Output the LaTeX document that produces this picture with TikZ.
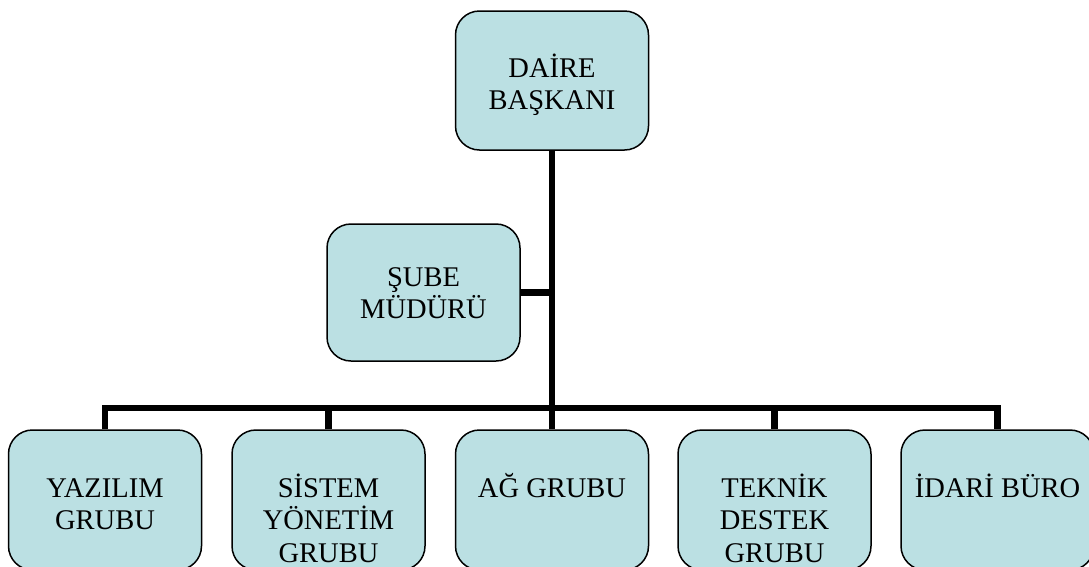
\documentclass[tikz,border=0pt]{standalone}
\usepackage{fontspec}
\setmainfont{Liberation Serif}
\definecolor{boxfill}{HTML}{BBE0E3}
\newcommand\mybt[3]{\parbox[c][#1][t]{188pt}{\centering\rule{0pt}{#2}#3}}
\tikzset{
  orgbox/.style={draw=black, line width=1.5pt, fill=boxfill, rounded corners=24pt,
    minimum width=193pt, inner sep=0pt, font=\fontsize{28.5}{32.5}\selectfont},
  conn/.style={line width=6.5pt, draw=black, line join=miter}
}
\begin{document}
\begin{tikzpicture}[x=1pt,y=-1pt]
\useasboundingbox (0,0) rectangle (1089,566);
\node[orgbox] (top) at (552,80.5) {\mybt{139pt}{66pt}{DAİRE\\BAŞKANI}};
\node[orgbox] (sube) at (423.5,292.5) {\mybt{137pt}{62pt}{ŞUBE\\MÜDÜRÜ}};
\node[orgbox] (b1) at (105,500) {\mybt{140pt}{67pt}{YAZILIM\\GRUBU}};
\node[orgbox] (b2) at (328.5,500) {\mybt{140pt}{67pt}{SİSTEM\\YÖNETİM\\GRUBU}};
\node[orgbox] (b3) at (552,500) {\mybt{140pt}{67pt}{AĞ GRUBU}};
\node[orgbox] (b4) at (774.5,500) {\mybt{140pt}{67pt}{TEKNİK\\DESTEK\\GRUBU}};
\node[orgbox] (b5) at (997.5,500) {\mybt{140pt}{67pt}{İDARİ BÜRO}};
\coordinate (bus) at (552,408);
\draw[conn] (top.south) -- (b3.north);
\draw[conn] (sube.east) -- (sube.east -| top.south);
\draw[conn] (b1.north) |- (b5.north |- bus) -- (b5.north);
\draw[conn] (b2.north) -- (b2.north |- bus);
\draw[conn] (b4.north) -- (b4.north |- bus);
\end{tikzpicture}
\end{document}
